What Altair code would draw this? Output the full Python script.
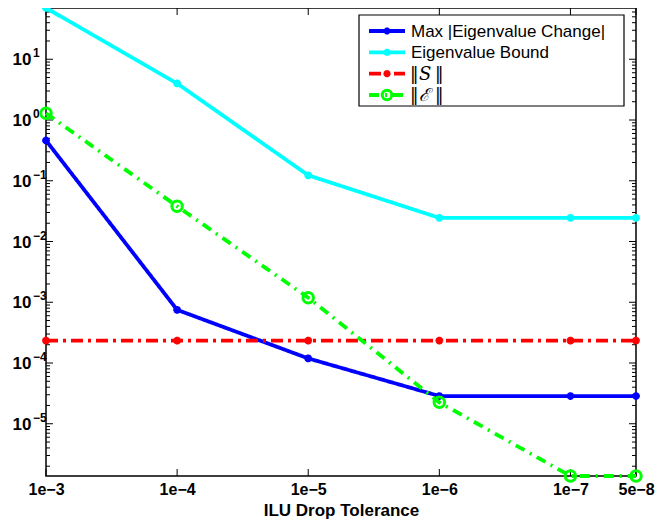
import altair as alt
import pandas as pd

# ---- data ----
tol_labels = ["1e\u22123", "1e\u22124", "1e\u22125", "1e\u22126", "1e\u22127", "5e\u22128"]
tol_pos = [3, 4, 5, 6, 7, 7.5]

max_change = [0.46, 7.5e-4, 1.19e-4, 2.86e-5, 2.86e-5, 2.86e-5]
eig_bound = [69.8, 4.0, 0.123, 0.0245, 0.0245, 0.0245]
norm_s = [2.34e-4, 2.34e-4, 2.34e-4, 2.34e-4, 2.34e-4, 2.34e-4]
norm_e = [1.29, 0.038, 1.19e-3, 2.25e-5, 1.38e-6, 1.38e-6]

series_names = ["Max |Eigenvalue Change|", "Eigenvalue Bound", "S", "E"]
series_values = [max_change, eig_bound, norm_s, norm_e]

y_decades = [1, 0, -1, -2, -3, -4, -5]
y_min, y_max = 1.38e-6, 69.8

# ---- styling ----
W, H = 590, 468
FONT = "Liberation Sans"
colors = ["#0000FF", "#00FFFF", "#FF0000", "#00FF00"]
dashes = [[1, 0], [1, 0], [12, 5, 3, 5], [10, 6, 2, 6]]
LW = 3.8
ASTER = "M-1,0L1,0M0,-1L0,1M-0.7,-0.7L0.7,0.7M-0.7,0.7L0.7,-0.7"

xscale = alt.Scale(domain=[tol_pos[0], tol_pos[-1]], nice=False, zero=False)
yscale = alt.Scale(type="log", domain=[y_min, y_max], nice=False)

label_expr = " : ".join(
    f"datum.value == {p} ? '{l}'" for p, l in zip(tol_pos, tol_labels)
) + " : ''"

xaxis = alt.Axis(
    values=tol_pos, labelExpr=label_expr, ticks=False, domain=False, grid=False,
    title="ILU Drop Tolerance", labelFont=FONT, labelFontSize=16,
    labelFontWeight="bold", labelColor="black", labelPadding=5,
    labelFlush=False, labelOverlap=False,
    titleFont=FONT, titleFontSize=17, titleFontWeight="bold",
    titleColor="black", titlePadding=5,
)


def X(field="x"):
    return alt.X(f"{field}:Q", scale=xscale, axis=xaxis)


def Y(field="y"):
    return alt.Y(f"{field}:Q", scale=yscale, axis=None)


layers = []

# ---- ticks (inward, MATLAB style) ----
major = [10.0 ** e for e in range(-6, 3) if y_min <= 10.0 ** e <= y_max]
minor = [k * 10.0 ** e for e in range(-7, 3) for k in range(2, 10)
         if y_min <= k * 10.0 ** e <= y_max]
df_major = pd.DataFrame({"v": major})
df_minor = pd.DataFrame({"v": minor})
for df_t, L in ((df_major, 7), (df_minor, 4)):
    layers.append(alt.Chart(df_t).mark_rule(color="black", strokeWidth=1).encode(
        y=Y("v"), x=alt.value(0), x2=alt.value(L)))
    layers.append(alt.Chart(df_t).mark_rule(color="black", strokeWidth=1).encode(
        y=Y("v"), x=alt.value(W - L), x2=alt.value(W)))

df_xt = pd.DataFrame({"x": tol_pos})
layers.append(alt.Chart(df_xt).mark_rule(color="black", strokeWidth=1).encode(
    x=X(), y=alt.value(H), y2=alt.value(H - 7)))
layers.append(alt.Chart(df_xt).mark_rule(color="black", strokeWidth=1).encode(
    x=X(), y=alt.value(0), y2=alt.value(7)))

# ---- y tick labels as 10^n ----
df_ylab = pd.DataFrame({
    "v": [10.0 ** e for e in y_decades],
    "exp": [str(e).replace("-", "\u2212") for e in y_decades],
})
layers.append(alt.Chart(df_ylab).mark_text(
    align="left", baseline="middle", font=FONT, fontSize=17,
    fontWeight="bold", color="black", dy=1).encode(
    x=alt.value(-33.5), y=Y("v"), text=alt.value("10")))
layers.append(alt.Chart(df_ylab).mark_text(
    align="left", baseline="middle", font=FONT, fontSize=12,
    fontWeight="bold", color="black", dy=-6).encode(
    x=alt.value(-13), y=Y("v"), text="exp:N"))

# ---- data series ----
for i, (name, vals) in enumerate(zip(series_names, series_values)):
    df = pd.DataFrame({"x": tol_pos, "y": vals})
    base = alt.Chart(df)
    layers.append(base.mark_line(color=colors[i], strokeWidth=LW,
                                 strokeDash=dashes[i]).encode(x=X(), y=Y()))
    if name == "E":
        layers.append(base.mark_point(shape="circle", filled=False, size=110,
                                      color=colors[i], strokeWidth=3,
                                      opacity=1).encode(x=X(), y=Y()))
    else:
        layers.append(base.mark_point(shape=ASTER, filled=False, size=60,
                                      color=colors[i], strokeWidth=2.5,
                                      opacity=1).encode(x=X(), y=Y()))

# ---- legend (drawn manually, MATLAB style) ----
one = pd.DataFrame({"a": [0]})
LX = 313
layers.append(alt.Chart(one).mark_rect(fill="white", stroke="black",
                                       strokeWidth=1.2).encode(
    x=alt.value(LX), x2=alt.value(LX + 265), y=alt.value(7), y2=alt.value(98)))
row_y = [23, 44.3, 65.7, 87]
for i, name in enumerate(series_names):
    ry = row_y[i]
    layers.append(alt.Chart(one).mark_rule(color=colors[i], strokeWidth=LW,
                                           strokeDash=dashes[i]).encode(
        x=alt.value(LX + 10), x2=alt.value(LX + 46), y=alt.value(ry)))
    if name == "E":
        layers.append(alt.Chart(one).mark_point(shape="circle", filled=False,
                                                size=90, color=colors[i],
                                                strokeWidth=3, opacity=1).encode(
            x=alt.value(LX + 28), y=alt.value(ry)))
    else:
        layers.append(alt.Chart(one).mark_point(shape=ASTER, filled=False,
                                                size=50, color=colors[i],
                                                strokeWidth=2.5, opacity=1).encode(
            x=alt.value(LX + 28), y=alt.value(ry)))
    if name in ("S", "E"):
        sym = "S" if name == "S" else "\u2130"
        layers.append(alt.Chart(one).mark_text(
            align="left", baseline="middle", font="DejaVu Sans", fontSize=17,
            color="black", dy=1).encode(
            x=alt.value(LX + 51), y=alt.value(ry), text=alt.value("\u2016")))
        layers.append(alt.Chart(one).mark_text(
            align="left", baseline="middle", font="DejaVu Serif", fontSize=18,
            fontStyle="italic", color="black", dy=1).encode(
            x=alt.value(LX + 60), y=alt.value(ry), text=alt.value(sym)))
        layers.append(alt.Chart(one).mark_text(
            align="left", baseline="middle", font="DejaVu Sans", fontSize=17,
            color="black", dy=1).encode(
            x=alt.value(LX + 76), y=alt.value(ry), text=alt.value("\u2016")))
    else:
        layers.append(alt.Chart(one).mark_text(
            align="left", baseline="middle", font=FONT, fontSize=17,
            color="black", dy=1).encode(
            x=alt.value(LX + 52), y=alt.value(ry), text=alt.value(name)))

chart = alt.layer(*layers).properties(
    width=W, height=H,
    autosize=alt.AutoSizeParams(type="none"),
    padding={"left": 38, "top": 0, "right": 19, "bottom": 44},
    background="white",
).configure_view(stroke="black", strokeWidth=1.5)

chart.save("out.html", embed_options={"renderer": "svg", "actions": False})
